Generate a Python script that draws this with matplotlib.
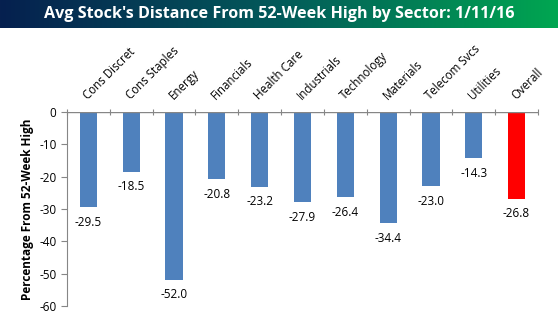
import matplotlib
matplotlib.use("Agg")
import matplotlib.pyplot as plt
import numpy as np
from matplotlib.colors import LinearSegmentedColormap

categories = ["Cons Discret", "Cons Staples", "Energy", "Financials", "Health Care",
              "Industrials", "Technology", "Materials", "Telecom Svcs", "Utilities", "Overall"]
values = [-29.5, -18.5, -52.0, -20.8, -23.2, -27.9, -26.4, -34.4, -23.0, -14.3, -26.8]
title = "Avg Stock's Distance From 52-Week High by Sector: 1/11/16"
ylabel = "Percentage From 52-Week High"
yticks = [0, -10, -20, -30, -40, -50, -60]

blue = "#4f81bd"
red = "#ff0000"
colors = [red if c == "Overall" else blue for c in categories]

plt.rcParams['font.family'] = ['Open Sans', 'DejaVu Sans']

W, H = 558, 321
fig = plt.figure(figsize=(W / 100, H / 100), dpi=100)

# title band with gradient
tax = fig.add_axes([0, 1 - 28 / H, 1, 28 / H])
cmap = LinearSegmentedColormap.from_list("g", ["#06204f", "#035a5a", "#00a651"])
grad = np.linspace(0, 1, 256).reshape(1, -1)
tax.imshow(grad, aspect='auto', cmap=cmap, extent=[0, 1, 0, 1])
tax.set_axis_off()
tax.text(0.5, 0.5, title, color="white", fontsize=11.6, fontweight='bold',
         ha='center', va='center', transform=tax.transAxes)

left, right = 67 / W, 538 / W
top, bottom = 1 - 112 / H, 1 - 306 / H
ax = fig.add_axes([left, bottom, right - left, top - bottom])
x = np.arange(len(categories))
ax.bar(x, values, width=0.4, color=colors, zorder=2)
ax.set_xlim(-0.5, len(categories) - 0.5)
ax.set_ylim(-60, 0)
ax.set_yticks(yticks)
ax.set_yticklabels([str(v) for v in yticks], fontsize=8.5)
ax.set_xticks(np.arange(len(categories) + 1) - 0.5)
ax.set_xticklabels([])
ax.xaxis.set_ticks_position('top')
ax.tick_params(axis='x', direction='inout', length=5, color="#868686",
               top=True, bottom=False, labeltop=False)
ax.tick_params(axis='y', direction='out', length=4, color="#868686")
for s in ['top', 'right', 'bottom']:
    ax.spines[s].set_visible(False)
ax.spines['left'].set_color("#868686")
ax.axhline(0, color="#868686", lw=1, zorder=3)
ax.set_ylabel(ylabel, fontsize=8.5, fontweight='bold', labelpad=4)

for xi, v, c in zip(x, values, categories):
    ax.annotate(f"{v:.1f}", (xi, v), xytext=(0, -6), textcoords='offset points',
                ha='center', va='top', fontsize=8.5)
    ax.annotate(c, (xi, 0), xytext=(1, 7), textcoords='offset points',
                ha='left', va='bottom', rotation=45, rotation_mode='anchor', fontsize=8.3)

fig.savefig("out.png", dpi=100)
